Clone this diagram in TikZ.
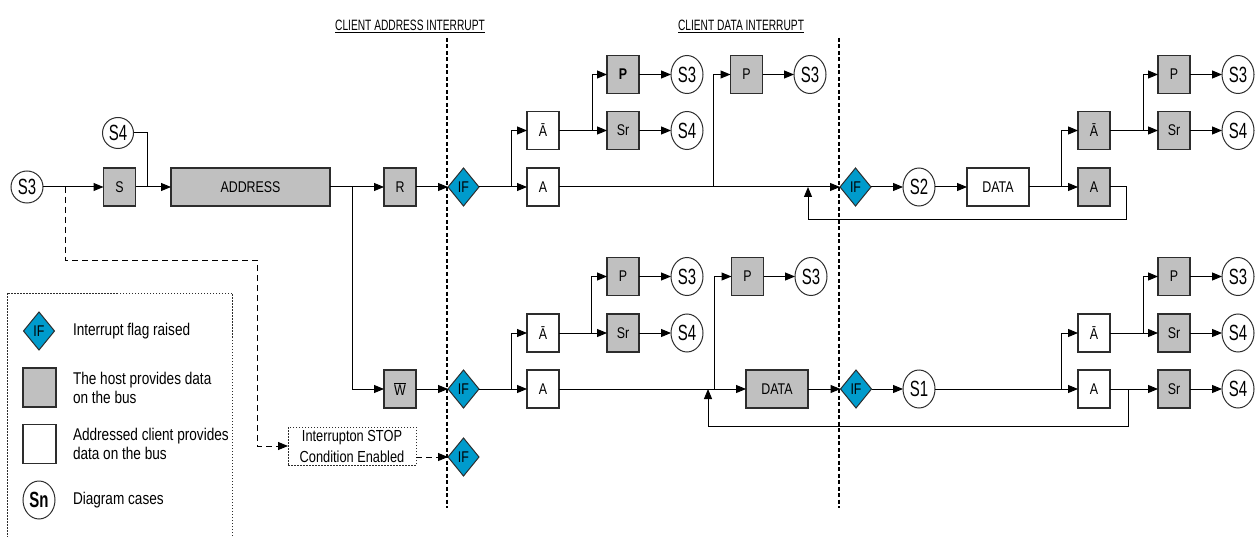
\documentclass[tikz,border=0pt]{standalone}
\usepackage{fontspec}
\setmainfont{Liberation Sans}
\newfontfamily\fA[FakeStretch=0.8]{Liberation Sans}
\newfontfamily\fB[FakeStretch=0.68]{Liberation Sans}
\usetikzlibrary{shapes.geometric,arrows.meta}
\definecolor{hostgray}{RGB}{192,192,192}
\definecolor{ifblue}{RGB}{0,155,204}
\definecolor{edgecol}{RGB}{45,45,45}
\begin{document}
\begin{tikzpicture}[x=1pt,y=-1pt,
  every node/.style={inner sep=0pt, outer sep=0pt},
  boxbase/.style={rectangle, draw=edgecol, line width=1.1pt, minimum width=32pt, minimum height=38pt, font=\fA\fontsize{15.5}{17}\selectfont},
  hostbox/.style={boxbase, fill=hostgray},
  clientbox/.style={boxbase, fill=white},
  casenode/.style={ellipse, draw=edgecol, line width=1pt, fill=white, minimum width=32pt, minimum height=38pt, font=\fB\fontsize{22}{24}\selectfont},
  ifnode/.style={diamond, draw=edgecol, line width=1pt, fill=ifblue, minimum width=31pt, minimum height=38pt, font=\fA\fontsize{15.5}{17}\selectfont},
  conn/.style={line width=1pt, draw=black},
  arr/.style={conn, -{Triangle[length=10pt,width=8pt]}},
  dasharr/.style={arr, dash pattern=on 6pt off 4pt},
  sepline/.style={line width=2.8pt, dash pattern=on 4pt off 2.5pt},
  dotbox/.style={draw=edgecol, line width=1pt, dash pattern=on 1.5pt off 1.5pt},
  legtext/.style={anchor=west, align=left, font=\fA\fontsize{17}{19}\selectfont},
  titletext/.style={font=\fB\fontsize{15}{17}\selectfont},
]
\useasboundingbox (0,0) rectangle (1257,537);

% separators
\draw[sepline] (447,38) -- (447,508);
\draw[sepline] (839,38) -- (839,508);

% titles
\node[titletext] (tAddr) at (410,26) {\underline{CLIENT ADDRESS INTERRUPT}};
\node[titletext] (tData) at (741,26) {\underline{CLIENT DATA INTERRUPT}};

% top row
\node[casenode, minimum width=32pt, minimum height=32pt] (s3a) at (27,187) {S3};
\node[casenode, minimum width=31pt, minimum height=31pt] (s4a) at (118,133) {S4};
\node[hostbox] (S) at (119.5,187) {S};
\node[hostbox, minimum width=159pt] (addr) at (250.5,187) {ADDRESS};
\node[hostbox] (R) at (400,187) {R};
\node[ifnode] (if1) at (463.5,187) {IF};
\node[clientbox] (nA1) at (543,130.5) {Ā};
\node[clientbox] (A1) at (543,187) {A};
\node[hostbox, font=\fA\bfseries\fontsize{15.5}{17}\selectfont] (P1) at (623,74.5) {P};
\node[hostbox] (Sr1) at (623,130.5) {Sr};
\node[casenode] (c31) at (687,74.5) {S3};
\node[casenode] (c41) at (687,130.5) {S4};
\node[hostbox] (P2) at (746.5,74.5) {P};
\node[casenode] (c32) at (810,74.5) {S3};
\node[ifnode] (if2) at (855.5,187) {IF};
\node[casenode] (s2) at (919,187) {S2};
\node[clientbox, minimum width=62pt] (D1) at (998,187) {DATA};
\node[hostbox] (nA2) at (1094,130.5) {Ā};
\node[hostbox] (A2) at (1094,187) {A};
\node[hostbox] (P3) at (1174,74.5) {P};
\node[hostbox] (Sr3) at (1174,130.5) {Sr};
\node[casenode] (c33) at (1238,74.5) {S3};
\node[casenode] (c43) at (1238,130.5) {S4};

% bottom row
\node[hostbox] (W) at (400,389) {$\overline{\hbox{W}}$};
\node[ifnode] (if3) at (463.5,389) {IF};
\node[clientbox] (nA4) at (543,333) {Ā};
\node[clientbox] (A4) at (543,389) {A};
\node[hostbox] (P4) at (623,276.5) {P};
\node[hostbox] (Sr4) at (623,333) {Sr};
\node[casenode] (c34) at (687,276.5) {S3};
\node[casenode] (c44) at (687,333) {S4};
\node[hostbox] (P5) at (747.5,276.5) {P};
\node[casenode] (c35) at (811,276.5) {S3};
\node[hostbox, minimum width=62pt] (D2) at (777,389) {DATA};
\node[ifnode] (if4) at (856,389) {IF};
\node[casenode] (s1) at (919,389) {S1};
\node[clientbox] (nA5) at (1094,333) {Ā};
\node[clientbox] (A5) at (1094,389) {A};
\node[hostbox] (P6) at (1174,276.5) {P};
\node[hostbox] (Sr6) at (1174,333) {Sr};
\node[casenode] (c36) at (1238,276.5) {S3};
\node[casenode] (c46) at (1238,333) {S4};
\node[hostbox] (Sr7) at (1174,389) {Sr};
\node[casenode] (c47) at (1238,389) {S4};

% stop condition
\node[dotbox, minimum width=128pt, minimum height=38pt, align=center, font=\fA\fontsize{16}{21}\selectfont] (stop) at (352,446) {Interrupton STOP\\Condition Enabled};
\node[ifnode] (if5) at (463.5,457) {IF};

% legend
\node[dotbox, minimum width=225pt, minimum height=270pt, anchor=north west] (legend) at (7,293) {};
\node[ifnode] (lif) at (39,331) {IF};
\node[hostbox, minimum width=33pt, minimum height=39pt] (lhost) at (39.5,387.5) {};
\node[clientbox, minimum width=33pt, minimum height=39pt] (lclient) at (39.5,444) {};
\node[casenode, font=\fB\bfseries\fontsize{22}{24}\selectfont] (lcase) at (39,500) {Sn};
\node[legtext] (lt1) at (73,331) {Interrupt flag raised};
\node[legtext] (lt2) at (73,387.5) {The host provides data\\on the bus};
\node[legtext] (lt3) at (73,444) {Addressed client provides\\data on the bus};
\node[legtext] (lt4) at (73,500) {Diagram cases};

% junction coordinates
\coordinate (j0) at (65,187);
\coordinate (j1) at (147,187);
\coordinate (j2) at (352,187);
\coordinate (j3) at (511,187);
\coordinate (j4) at (592,130.5);
\coordinate (j5) at (713,187);
\coordinate (j6) at (808,187);
\coordinate (j7) at (1061,187);
\coordinate (j8) at (1143,130.5);
\coordinate (j9) at (511,389);
\coordinate (j10) at (591,333);
\coordinate (j11) at (714,389);
\coordinate (j12) at (1061,389);
\coordinate (j13) at (1143,333);
\coordinate (j14) at (1128,389);
\coordinate (j15) at (708,389);

% top connectors
\draw[arr] (s3a) -- (S);
\draw[conn] (s4a.east) -| (j1);
\draw[arr] (S) -- (addr);
\draw[arr] (addr) -- (R);
\draw[arr] (j2) |- (W);
\draw[arr] (R) -- (if1);
\draw[arr] (if1) -- (A1);
\draw[arr] (j3) |- (nA1);
\draw[arr] (nA1) -- (Sr1);
\draw[arr] (j4) |- (P1);
\draw[arr] (P1) -- (c31);
\draw[arr] (Sr1) -- (c41);
\draw[arr] (A1) -- (if2);
\draw[arr] (j5) |- (P2);
\draw[arr] (P2) -- (c32);
\draw[arr] (if2) -- (s2);
\draw[arr] (s2) -- (D1);
\draw[arr] (D1) -- (A2);
\draw[arr] (j7) |- (nA2);
\draw[arr] (nA2) -- (Sr3);
\draw[arr] (j8) |- (P3);
\draw[arr] (P3) -- (c33);
\draw[arr] (Sr3) -- (c43);
\draw[arr] (A2.east) -| (1126,220) -| (j6);

% bottom connectors
\draw[arr] (W) -- (if3);
\draw[arr] (if3) -- (A4);
\draw[arr] (j9) |- (nA4);
\draw[arr] (nA4) -- (Sr4);
\draw[arr] (j10) |- (P4);
\draw[arr] (P4) -- (c34);
\draw[arr] (Sr4) -- (c44);
\draw[arr] (A4) -- (D2);
\draw[arr] (j11) |- (P5);
\draw[arr] (P5) -- (c35);
\draw[arr] (D2) -- (if4);
\draw[arr] (if4) -- (s1);
\draw[arr] (s1) -- (A5);
\draw[arr] (j12) |- (nA5);
\draw[arr] (nA5) -- (Sr6);
\draw[arr] (j13) |- (P6);
\draw[arr] (P6) -- (c36);
\draw[arr] (Sr6) -- (c46);
\draw[arr] (A5) -- (Sr7);
\draw[arr] (Sr7) -- (c47);
\draw[arr] (j14) -- (1128,426) -| (j15);

% dashed stop-condition path
\draw[dasharr] (j0) -- (65,260) -| (257,446) -- (stop.west);
\draw[dasharr] (stop.east |- if5) -- (if5);
\end{tikzpicture}
\end{document}
